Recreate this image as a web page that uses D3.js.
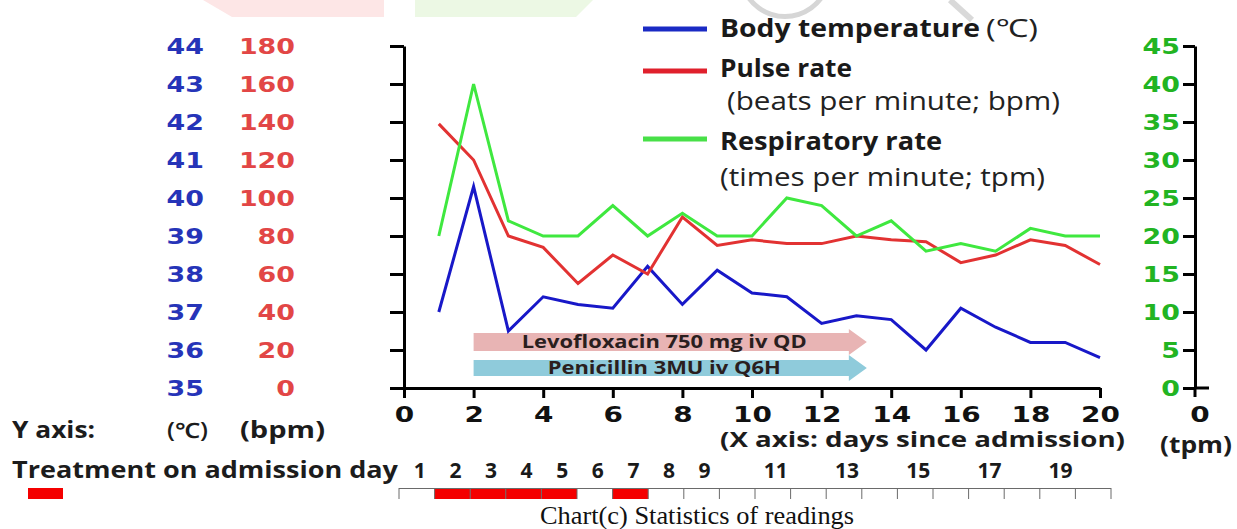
<!DOCTYPE html>
<html><head><meta charset="utf-8">
<script src="https://cdn.jsdelivr.net/npm/d3@7"></script>
<style>body{margin:0;background:#fff}svg{display:block}</style>
</head><body>
<svg id="c" width="1237" height="529"></svg>
<script>
// ---------- data ----------
const days = [1,2,3,4,5,6,7,8,9,10,11,12,13,14,15,16,17,18,19,20];
const bodyTemp = [37.0,40.3,36.5,37.4,37.2,37.1,38.2,37.2,38.1,37.5,37.4,36.7,36.9,36.8,36.0,37.1,36.6,36.2,36.2,35.8];
const pulseRate = [139,120,80,74,55,70,60,90,75,78,76,76,80,78,77,66,70,78,75,65];
const respRate = [20,40,22,20,20,24,20,23,20,20,25,24,20,22,18,19,18,21,20,20];
const tempTicks = [35,36,37,38,39,40,41,42,43,44];
const pulseTicks = [0,20,40,60,80,100,120,140,160,180];
const respTicks = [0,5,10,15,20,25,30,35,40,45];
const xTicks = [0,2,4,6,8,10,12,14,16,18,20];
const treatedDays = [2,3,4,5,7];
const dayLabels = [1,2,3,4,5,6,7,8,9,11,13,15,17,19];
const drugNames = ["Levofloxacin 750 mg iv QD","Penicillin 3MU iv Q6H"];
const drugStart = [2,2];
const drugEnd = [13.3,13.3];
const seriesNames = ["Body temperature","Pulse rate","Respiratory rate"];
const seriesUnits = ["(℃)","(beats per minute; bpm)","(times per minute; tpm)"];

// ---------- setup ----------
const svg = d3.select("#c");
const x = d3.scaleLinear().domain([0,20]).range([404,1100]);
const yT = d3.scaleLinear().domain([35,44]).range([388,46]);
const yP = d3.scaleLinear().domain([0,180]).range([388,46]);
const yR = d3.scaleLinear().domain([0,45]).range([388,46]);
const band = d3.scaleBand().domain(days).range([399,1111]);

const NUMF = "'DejaVu Sans', Verdana, sans-serif";
const TXTF = "'Open Sans', 'Noto Sans', sans-serif";
const BLUE = "#1818c8", RED = "#e23232", GREEN = "#3fe83f";

function label(g, px, py, str, o) {
  const t = g.append("text").attr("x", px).attr("y", py).text(str)
    .attr("font-family", o.family || TXTF)
    .attr("font-weight", o.weight || 700)
    .attr("font-size", o.size || 22)
    .attr("fill", o.fill || "#1c1c1c")
    .attr("text-anchor", o.anchor || "start");
  if (o.width) t.attr("textLength", o.width).attr("lengthAdjust", "spacingAndGlyphs");
  return t;
}
function widen(sel, k) {
  sel.each(function () {
    const t = d3.select(this);
    const x0 = +t.attr("x") || 0;
    t.attr("x", x0 / k).attr("transform", `scale(${k},1)`);
  });
}

// ---------- faint watermark remnants ----------
const wm = svg.append("g");
wm.append("polygon").attr("points", "203,0 384,0 384,17 232,17").attr("fill", "#fde6e6");
wm.append("polygon").attr("points", "415,0 593,0 576,17 415,17").attr("fill", "#ecf8e4");
wm.append("path").attr("d", d3.arc()({innerRadius: 42, outerRadius: 47, startAngle: Math.PI * 0.6, endAngle: Math.PI * 1.4}))
  .attr("transform", "translate(785,-28)").attr("fill", "#d6d6d6");
wm.append("line").attr("x1", 950).attr("y1", 0).attr("x2", 972).attr("y2", 20)
  .attr("stroke", "#d9d9d9").attr("stroke-width", 6);

// ---------- left label columns ----------
const colT = svg.append("g").attr("transform", "translate(204,0)")
  .call(d3.axisLeft(yT).tickValues(tempTicks).tickSize(0).tickPadding(0));
const colP = svg.append("g").attr("transform", "translate(295,0)")
  .call(d3.axisLeft(yP).tickValues(pulseTicks).tickSize(0).tickPadding(0));
[[colT, "#2634b8"], [colP, "#e24646"]].forEach(([g, c]) => {
  g.select(".domain").remove();
  g.selectAll("text").attr("font-family", NUMF).attr("font-weight", 700)
    .attr("font-size", 21).attr("fill", c).attr("dy", "0.36em");
  widen(g.selectAll("text"), 1.28);
});

// ---------- main left axis ----------
const axL = svg.append("g").attr("transform", "translate(404,0)")
  .call(d3.axisLeft(yT).tickValues(tempTicks).tickSize(14).tickSizeOuter(0).tickFormat(""));

// ---------- x axis ----------
const axX = svg.append("g").attr("transform", "translate(0,388)")
  .call(d3.axisBottom(x).tickValues(xTicks).tickSize(10).tickSizeOuter(0).tickPadding(9));
axX.selectAll("text").attr("font-family", NUMF).attr("font-weight", 700)
  .attr("font-size", 21).attr("fill", "#111");
widen(axX.selectAll("text"), 1.33);

// ---------- right axis ----------
const axR = svg.append("g").attr("transform", "translate(1195,0)")
  .call(d3.axisLeft(yR).tickValues(respTicks).tickSize(12).tickSizeOuter(0).tickPadding(3));
axR.selectAll("text").attr("font-family", NUMF).attr("font-weight", 700)
  .attr("font-size", 21).attr("fill", "#22b422").attr("dy", "0.36em");
widen(axR.selectAll("text"), 1.28);
axR.append("line").attr("x1", 0).attr("x2", 14).attr("y1", yR(0)).attr("y2", yR(0));
axR.append("line").attr("x1", 0).attr("x2", 0).attr("y1", yR(0)).attr("y2", yR(0) + 9);

[axL, axX, axR].forEach(g => {
  g.selectAll(".domain").attr("stroke", "#000").attr("stroke-width", 3);
  g.selectAll("line").attr("stroke", "#000").attr("stroke-width", 3);
});

// ---------- drug arrows ----------
const drugColors = ["#e8b4b4", "#8fcbdb"];
drugNames.forEach((name, i) => {
  const yc = 342 + i * 26;
  const x0 = x(drugStart[i]), tip = x(drugEnd[i]), hb = tip - 18;
  const bh = i === 0 ? 9 : 8, hh = 13;
  svg.append("path")
    .attr("d", `M${x0},${yc - bh}L${hb},${yc - bh}L${hb},${yc - hh}L${tip},${yc}L${hb},${yc + hh}L${hb},${yc + bh}L${x0},${yc + bh}Z`)
    .attr("fill", drugColors[i]);
  label(svg, (x0 + hb) / 2 + 3, yc + 6, name, {size: 18, anchor: "middle", fill: "#2a1e1e",
    width: i === 0 ? 285 : 233});
});

// ---------- data lines ----------
const series = [[bodyTemp, yT, BLUE], [pulseRate, yP, RED], [respRate, yR, GREEN]];
series.forEach(([vals, ys, col]) => {
  svg.append("path")
    .datum(days.map((d, i) => [d, vals[i]]))
    .attr("fill", "none").attr("stroke", col).attr("stroke-width", 3)
    .attr("stroke-linejoin", "miter")
    .attr("d", d3.line().x(d => x(d[0])).y(d => ys(d[1])));
});

// ---------- legend ----------
const legY = [29, 71, 139];
const legCols = ["#1a2ac4", "#e0202c", "#48e048"];
const legNameBase = [37, 77, 150];
const legNameW = [260, 132, 222];
const legUnitPos = [[986, 37, 52], [727, 110, 333], [720, 186, 325]];
seriesNames.forEach((n, i) => {
  svg.append("line").attr("x1", 643).attr("x2", 707).attr("y1", legY[i]).attr("y2", legY[i])
    .attr("stroke", legCols[i]).attr("stroke-width", 5);
  label(svg, 720, legNameBase[i], n, {size: 25, width: legNameW[i], fill: "#1a1a1a"});
  label(svg, legUnitPos[i][0], legUnitPos[i][1], seriesUnits[i],
    {size: 25, weight: 400, width: legUnitPos[i][2], fill: "#222"});
});

// ---------- bottom texts ----------
label(svg, 12, 438, "Y axis:", {size: 23, width: 83});
label(svg, 167, 438, "(℃)", {size: 21, weight: 600, width: 41});
label(svg, 240, 438, "(bpm)", {size: 23, width: 85});
label(svg, 720, 447, "(X axis: days since admission)", {size: 22, width: 405});
const z = label(svg, 1200, 422, "0", {family: NUMF, size: 21, anchor: "middle", fill: "#111"});
widen(z, 1.33);
label(svg, 1160, 453, "(tpm)", {size: 23, width: 72});
label(svg, 12, 478, "Treatment on admission day", {size: 23, width: 386});

// day numbers
dayLabels.forEach(d => {
  label(svg, band(d) + band.bandwidth() / 2 + 3, 478, String(d), {size: 21, anchor: "middle", fill: "#1a1a1a"});
});

// treatment cells
const cellTop = 488, cellBot = 499;
svg.selectAll("rect.cell").data(treatedDays).join("rect").attr("class", "cell")
  .attr("x", d => band(d)).attr("y", cellTop).attr("width", band.bandwidth()).attr("height", cellBot - cellTop)
  .attr("fill", "#f40000");
svg.append("line").attr("x1", band(1)).attr("x2", band(20) + band.bandwidth())
  .attr("y1", cellTop + 0.5).attr("y2", cellTop + 0.5).attr("stroke", "#6a6a6a").attr("stroke-width", 1);
svg.selectAll("line.sep").data(days.concat([21])).join("line").attr("class", "sep")
  .attr("x1", d => d <= 20 ? band(d) : band(20) + band.bandwidth())
  .attr("x2", d => d <= 20 ? band(d) : band(20) + band.bandwidth())
  .attr("y1", cellTop).attr("y2", cellBot).attr("stroke", "#6a6a6a").attr("stroke-width", 1);
// treatment key square
svg.append("rect").attr("x", 28).attr("y", cellTop).attr("width", 35).attr("height", cellBot - cellTop).attr("fill", "#f40000");

// caption
label(svg, 540, 524, "Chart(c) Statistics of readings",
  {family: "'Liberation Serif', 'Times New Roman', serif", weight: 400, size: 25, width: 314, fill: "#111"});
</script>
</body></html>
